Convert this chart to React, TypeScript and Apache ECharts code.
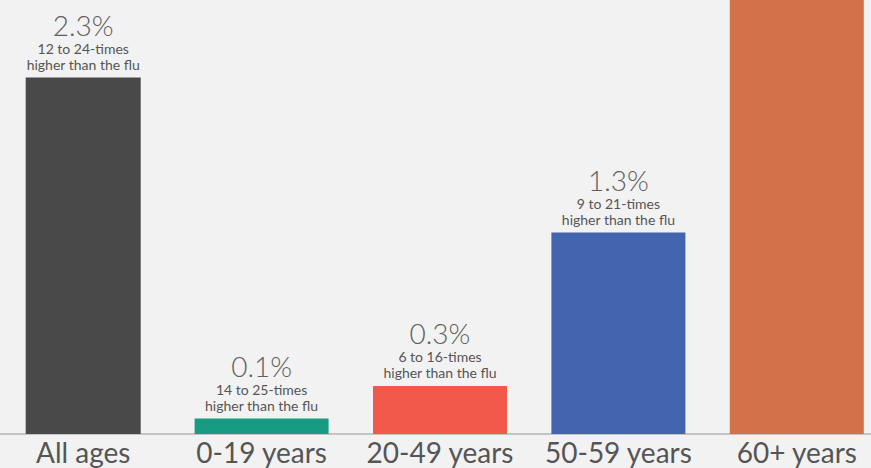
import React, { useEffect, useRef } from "react";
import * as echarts from "echarts";

const categories = ["All ages", "0-19 years", "20-49 years", "50-59 years", "60+ years"];
const barValues = [2.3, 0.1, 0.31, 1.3, 4.6];
const valueLabels = ["2.3%", "0.1%", "0.3%", "1.3%", ""];
const fluLines = ["12 to 24-times", "14 to 25-times", "6 to 16-times", "9 to 21-times", ""];
const barColors = ["#494949", "#179b82", "#f1584a", "#4364ae", "#d3714a"];

export default function App() {
  const ref = useRef<HTMLDivElement>(null);
  useEffect(() => {
    if (!ref.current) return;
    const chart = echarts.init(ref.current, null, { renderer: "svg" });
    const fmt = (p: any) => {
      const i = p.dataIndex;
      if (!valueLabels[i]) return "";
      return `{v|${valueLabels[i]}}\n{s|${fluLines[i]}}\n{s|higher than the flu}`;
    };
    const label = {
      show: true,
      position: "top",
      distance: 5,
      formatter: fmt,
      rich: {
        v: { fontFamily: "Lato", fontSize: 28, lineHeight: 32, color: "#606060", fontWeight: 300 },
        s: { fontFamily: "Lato", fontSize: 14, lineHeight: 16, color: "#555" },
      },
    };
    chart.setOption({
      animation: false,
      backgroundColor: "#f2f2f2",
      grid: { left: 0, right: 0, top: 0, bottom: 34, containLabel: false },
      xAxis: [
        {
          type: "category",
          data: categories,
          axisLine: { show: true, lineStyle: { color: "#c4c4c4", width: 2 } },
          axisTick: { show: false },
          axisLabel: { interval: 0, fontFamily: "Lato", fontSize: 28, color: "#555", margin: 4 },
        },
        { type: "category", data: categories, show: false, position: "bottom" },
      ],
      yAxis: { type: "value", min: 0, max: 2.8, show: false, splitLine: { show: false } },
      series: [
        {
          type: "bar",
          xAxisIndex: 1,
          barWidth: 115,
          data: barValues.map((v, i) => (i === 0 ? { value: v, itemStyle: { color: barColors[i] } } : "-")),
          label,
        },
        {
          type: "bar",
          xAxisIndex: 0,
          barWidth: 134,
          data: barValues.map((v, i) => (i === 0 ? "-" : { value: v, itemStyle: { color: barColors[i] } })),
          label,
        },
      ],
    });
    return () => chart.dispose();
  }, []);
  return (
    <div
      ref={ref}
      style={{ position: "fixed", left: -6.4, top: 0, width: 892.3, height: 468, overflow: "hidden" }}
    />
  );
}
